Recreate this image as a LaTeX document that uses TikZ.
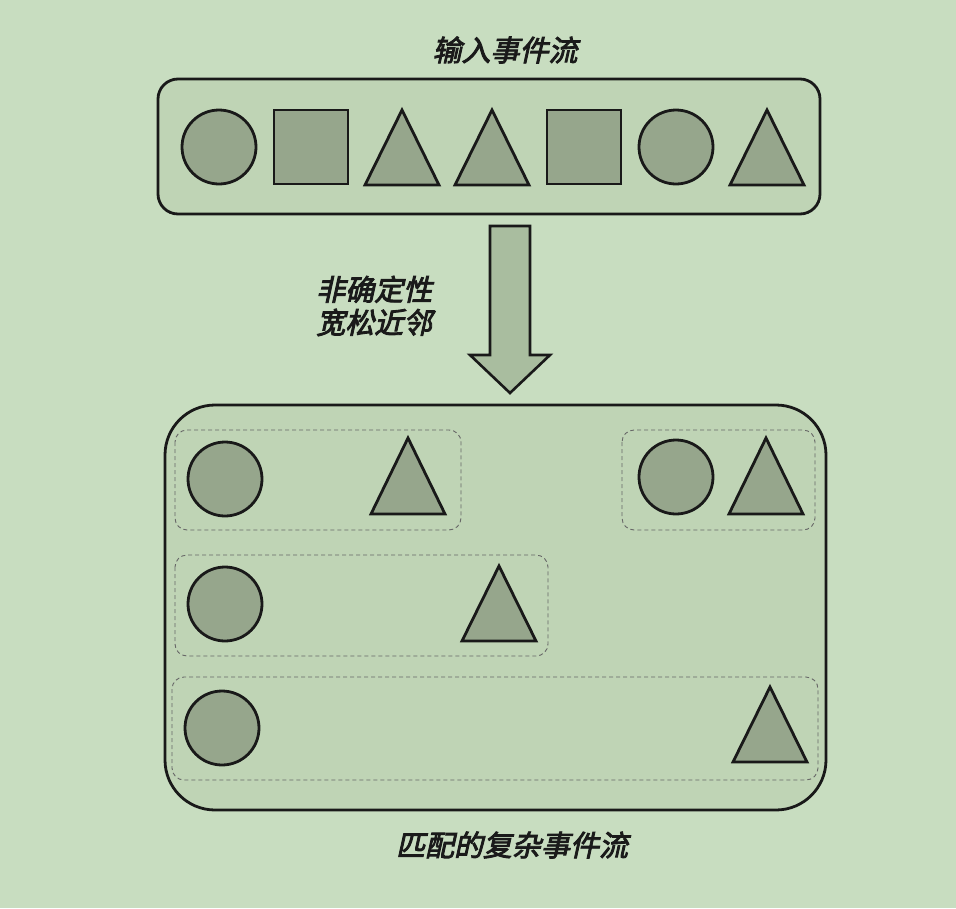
\documentclass[tikz,border=0pt]{standalone}
\usepackage{fontspec}
\newfontfamily\cjk[FakeSlant=0.22,FakeBold=3]{Noto Sans CJK SC}
\usetikzlibrary{shapes.geometric}
\definecolor{bgc}{HTML}{C8DDC0}
\definecolor{boxc}{HTML}{BFD4B5}
\definecolor{shpc}{HTML}{96A68C}
\definecolor{arrc}{HTML}{A9BD9F}
\definecolor{txtc}{HTML}{1A1A1A}
\tikzset{
  shp/.style={draw=black!90, line width=2.8pt, fill=shpc},
  circ/.style={shp, circle, minimum size=74pt, inner sep=0pt},
  sq/.style={shp, rectangle, minimum size=74pt, inner sep=0pt},
  bigbox/.style={draw=black!90, line width=2.8pt, fill=boxc},
  grp/.style={draw=black!60, line width=0.9pt, dash pattern=on 4pt off 3pt},
  lbl/.style={font=\cjk\fontsize{29}{33}\selectfont, text=txtc, inner sep=0pt},
}
\newcommand{\tri}[3]{% center x, apex y, base y
  \draw[shp, line join=miter] (#1-37,#3) -- (#1,#2) -- (#1+37,#3) -- cycle;}
\begin{document}
\begin{tikzpicture}[x=1pt,y=-1pt]
\fill[bgc] (0,0) rectangle (956,908);
\useasboundingbox (0,0) rectangle (956,908);
% top
\node[lbl] (title) at (505,50) {输入事件流};
\draw[bigbox, rounded corners=20pt] (158,79) rectangle (820,214);
\node[circ] (c1) at (219,147) {};
\node[sq] (s1) at (311,147) {};
\tri{402}{110}{185}
\tri{492}{110}{185}
\node[sq] (s2) at (584,147) {};
\node[circ] (c2) at (676,147) {};
\tri{767}{110}{185}
% arrow
\draw[draw=black!90, line width=2.6pt, fill=arrc, line join=miter]
  (490,226) -- (530,226) -- (530,355) -- (550,355) -- (510,393) -- (470,355) -- (490,355) -- cycle;
\node[lbl, align=left, anchor=west] (mid) at (316,306) {非确定性\\宽松近邻};
% bottom
\draw[bigbox, rounded corners=50pt] (165,405) rectangle (826,810);
\draw[grp, rounded corners=12pt] (175,430) rectangle (461,530);
\draw[grp, rounded corners=12pt] (622,430) rectangle (815,530);
\draw[grp, rounded corners=12pt] (175,555) rectangle (548,656);
\draw[grp, rounded corners=12pt] (172,677) rectangle (818,780);
\node[circ] (r1a) at (225,479) {};
\tri{408}{438}{514}
\node[circ] (r1b) at (676,477) {};
\tri{766}{438}{514}
\node[circ] (r2a) at (225,604) {};
\tri{499}{566}{641}
\node[circ] (r3a) at (222,728) {};
\tri{770}{687}{762}
\node[lbl] (out) at (512,845) {匹配的复杂事件流};
\end{tikzpicture}
\end{document}
